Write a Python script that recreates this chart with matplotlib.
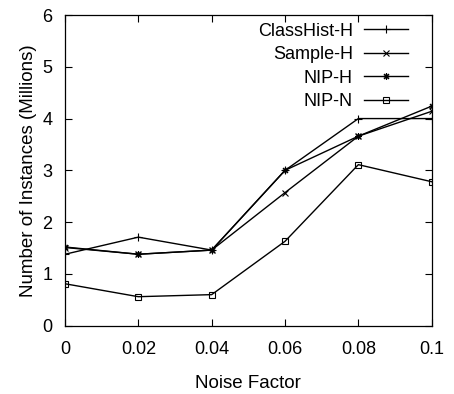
import matplotlib
matplotlib.use('Agg')
import matplotlib.pyplot as plt

plt.rcParams['font.family'] = ['Liberation Sans Narrow', 'Liberation Sans', 'DejaVu Sans']

noise = [0, 0.02, 0.04, 0.06, 0.08, 0.1]
classhist_h = [1.38, 1.71, 1.46, 3.00, 4.00, 4.00]
sample_h = [1.51, 1.38, 1.46, 2.57, 3.66, 4.14]
nip_h = [1.52, 1.38, 1.46, 3.00, 3.66, 4.24]
nip_n = [0.81, 0.56, 0.60, 1.63, 3.11, 2.78]

fig = plt.figure(figsize=(4.54, 3.94), dpi=100)
ax = fig.add_axes([65/454, 1 - 325.7/394, 366.7/454, 310.7/394])

ax.plot(noise, classhist_h, color='black', lw=1.0, marker='+', ms=5.5, mew=0.8, label='ClassHist-H')
ax.plot(noise, sample_h, color='black', lw=1.0, marker='x', ms=4, mew=0.8, label='Sample-H')
ax.plot(noise, nip_h, color='black', lw=1.0, marker=(8, 2, 0), ms=5, mew=0.8, label='NIP-H')
ax.plot(noise, nip_n, color='black', lw=1.0, marker='s', ms=4.5, mew=0.8, mfc='none', label='NIP-N')

ax.set_xlim(0, 0.1)
ax.set_ylim(0, 6)
ax.set_xticks(noise)
ax.set_xticklabels(['0', '0.02', '0.04', '0.06', '0.08', '0.1'])
ax.set_yticks(range(7))
ax.tick_params(direction='in', length=5, width=0.8, top=True, right=True, labelsize=13)
ax.tick_params(axis='x', pad=11)
ax.tick_params(axis='y', pad=9)
for s in ax.spines.values():
    s.set_linewidth(0.9)

ax.set_xlabel('Noise Factor', fontsize=13.5, va='top')
ax.xaxis.set_label_coords(0.5, -0.159)
ax.set_ylabel('Number of Instances (Millions)', fontsize=13.5)
ax.yaxis.set_label_coords(-0.077, 0.5)

ax.legend(loc='upper right', bbox_to_anchor=(0.935, 0.975), frameon=False, markerfirst=False,
          fontsize=13, handlelength=2.45, handletextpad=0.6, labelspacing=0.36,
          borderpad=0, borderaxespad=0, numpoints=1)

fig.savefig('out.png', dpi=100)
